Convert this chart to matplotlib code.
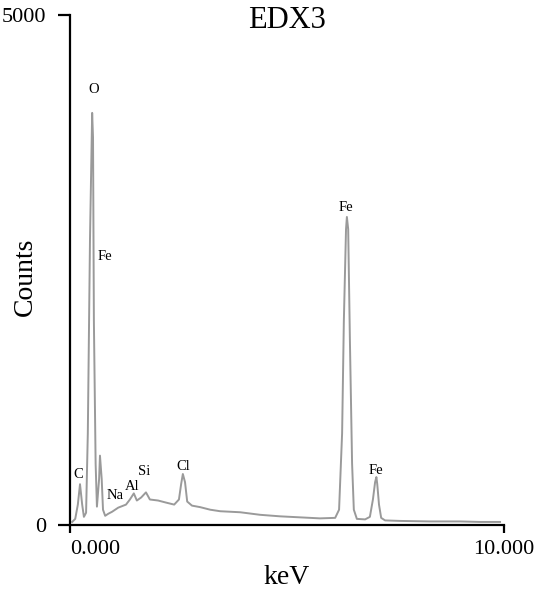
import matplotlib
matplotlib.use("Agg")
import matplotlib.pyplot as plt

energia = [0.05, 0.12, 0.18, 0.23, 0.28, 0.32, 0.37, 0.41, 0.46, 0.51, 0.53,
           0.55, 0.59, 0.62, 0.67, 0.69, 0.73, 0.76, 0.81, 0.88, 0.97, 1.11,
           1.29, 1.38, 1.47, 1.54, 1.64, 1.75, 1.84, 2.03, 2.21, 2.40, 2.51,
           2.56, 2.60, 2.65, 2.70, 2.81, 3.00, 3.23, 3.46, 3.92, 4.38, 4.84,
           5.30, 5.76, 6.11, 6.20, 6.27, 6.31, 6.36, 6.38, 6.41, 6.45, 6.50,
           6.54, 6.61, 6.80, 6.91, 6.98, 7.03, 7.06, 7.08, 7.12, 7.17, 7.26,
           7.60, 8.29, 8.99, 9.45, 9.91]
contagens = [30, 60, 200, 400, 200, 80, 120, 900, 2800, 4040, 3800,
             2000, 600, 180, 450, 680, 450, 150, 90, 110, 130, 170,
             200, 250, 310, 240, 270, 320, 250, 240, 220, 200, 250,
             400, 500, 420, 230, 190, 175, 150, 135, 125, 100, 85,
             75, 65, 70, 150, 900, 2000, 2900, 3020, 2900, 1800, 600,
             150, 60, 55, 80, 250, 420, 470, 400, 200, 70, 45,
             40, 35, 35, 30, 30]

# Rótulos dos elementos (texto, energia, contagem)
elementos = ["C", "O", "Fe", "Na", "Al", "Si", "Cl", "Fe", "Fe"]
elem_x = [0.18, 0.55, 0.81, 1.04, 1.43, 1.70, 2.60, 6.36, 7.05]
elem_y = [500, 4265, 2630, 294, 382, 520, 578, 3108, 539]

plt.rcParams['font.family'] = ['Liberation Serif', 'DejaVu Serif']

fig = plt.figure(figsize=(5.37, 5.97), dpi=100)
ax = fig.add_axes([0.1304, 0.1206, 0.8081, 0.8543])

ax.plot(energia, contagens, color='#9a9a9a', lw=1.4)

for nome, x, y in zip(elementos, elem_x, elem_y):
    ax.text(x, y, nome, fontsize=10.5, ha='center', va='center')

ax.set_xlim(0, 10)
ax.set_ylim(0, 5000)
ax.spines['top'].set_visible(False)
ax.spines['right'].set_visible(False)
ax.spines['left'].set_linewidth(1.6)
ax.spines['bottom'].set_linewidth(1.6)

ax.set_yticks([0, 5000])
ax.set_yticklabels(["0", "5000"])
ax.set_xticks([0, 10])
ax.set_xticklabels(["0.000", "10.000"])
ax.get_xticklabels()[0].set_horizontalalignment('left')
ax.tick_params(axis='y', direction='out', length=9, width=1.6, labelsize=16, pad=8)
ax.tick_params(axis='x', direction='out', length=6, width=1.6, labelsize=16, pad=5)

fig.text(25 / 537, 1 - 277 / 597, "Counts", fontsize=20, rotation=90,
         ha='center', va='center')
fig.text(287 / 537, 1 - 578 / 597, "keV", fontsize=20, ha='center', va='center')
fig.text(287 / 537, 1 - 20 / 597, "EDX3", fontsize=22, ha='center', va='center')

fig.savefig("out.png", dpi=100)
